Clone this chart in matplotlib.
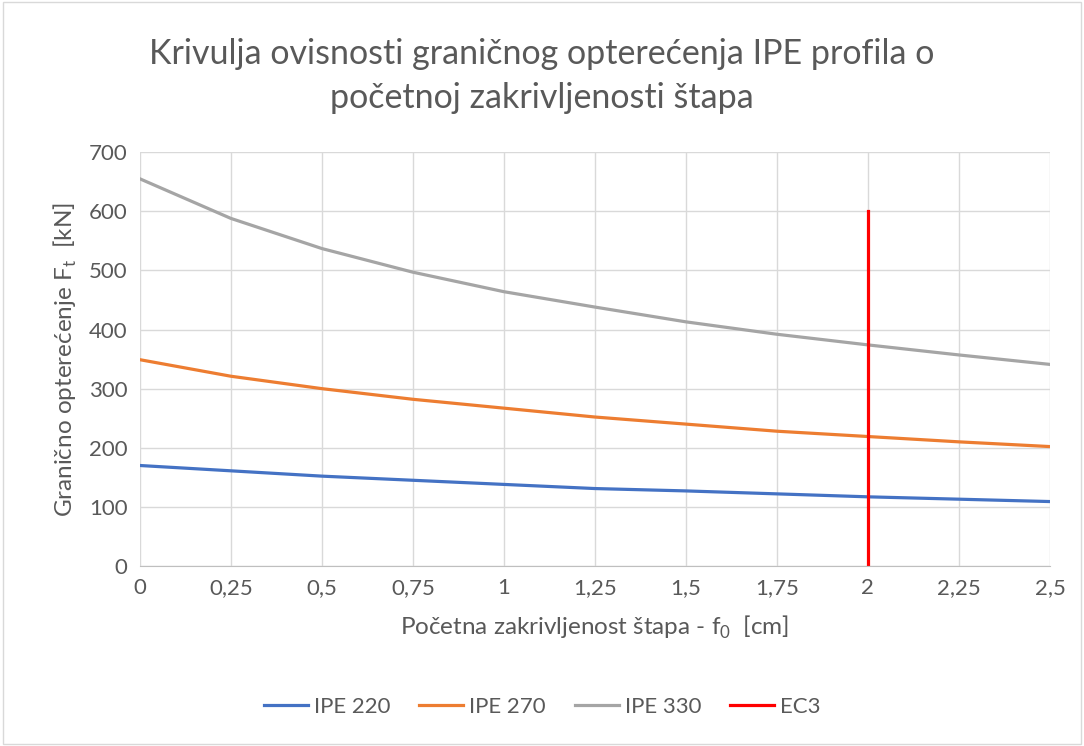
import numpy as np
import matplotlib.pyplot as plt
from matplotlib.patches import Rectangle

plt.rcParams['font.family'] = ['Lato', 'DejaVu Sans']
plt.rcParams['mathtext.fontset'] = 'custom'
plt.rcParams['mathtext.rm'] = 'Lato'

# podaci ocitani sa grafika
f0 = [0, 0.25, 0.5, 0.75, 1, 1.25, 1.5, 1.75, 2, 2.25, 2.5]
ipe220 = [170, 161, 152, 145, 138, 131, 127, 122, 117, 113, 109]
ipe270 = [349, 321, 300, 282, 267, 252, 240, 228, 219, 210, 202]
ipe330 = [655, 588, 537, 497, 464, 438, 413, 392, 374, 357, 341]
ec3_x = [2, 2]
ec3_y = [0, 600]

xticks = [0, 0.25, 0.5, 0.75, 1, 1.25, 1.5, 1.75, 2, 2.25, 2.5]
xlabels = ['0', '0,25', '0,5', '0,75', '1', '1,25', '1,5', '1,75', '2', '2,25', '2,5']
yticks = [0, 100, 200, 300, 400, 500, 600, 700]

txt = '#595959'
fig = plt.figure(figsize=(10.84, 7.46), dpi=100)
ax = fig.add_axes([0.129, 0.2413, 0.8396, 0.5547])

ax.plot(f0, ipe220, color='#4472c4', lw=2.3, label='IPE 220')
ax.plot(f0, ipe270, color='#ed7d31', lw=2.3, label='IPE 270')
ax.plot(f0, ipe330, color='#a5a5a5', lw=2.3, label='IPE 330')
ax.plot(ec3_x, ec3_y, color='#ff0000', lw=2.3, label='EC3')

ax.set_xlim(0, 2.5)
ax.set_ylim(0, 700)
ax.set_xticks(xticks)
ax.set_xticklabels(xlabels)
ax.set_yticks(yticks)
ax.grid(True, color='#d9d9d9', lw=1)
ax.set_axisbelow(True)
for s in ['top', 'right', 'left']:
    ax.spines[s].set_visible(False)
ax.spines['bottom'].set_color('#bfbfbf')
ax.tick_params(length=0, labelsize=16, colors=txt, pad=9)

ax.set_xlabel('Početna zakrivljenost štapa - f$_\\mathregular{0}$  [cm]', fontsize=17.5, color=txt, labelpad=11)
ax.set_ylabel('Granično opterećenje F$_\\mathregular{t}$  [kN]', fontsize=17.5, color=txt, labelpad=7)

fig.text(0.5, 0.898, 'Krivulja ovisnosti graničnog opterećenja IPE profila o\npočetnoj zakrivljenosti štapa',
         ha='center', va='center', fontsize=24.5, color=txt, linespacing=1.45)

fig.legend(loc='center', bbox_to_anchor=(0.5, 0.052), ncol=4, frameon=False,
           fontsize=16, labelcolor=txt, handlelength=2.0, columnspacing=1.3, handletextpad=0.25)

fig.patches.append(Rectangle((0.003, 0.003), 0.994, 0.994, transform=fig.transFigure,
                             fill=False, edgecolor='#d9d9d9', lw=1))

fig.savefig('out.png', dpi=100)
